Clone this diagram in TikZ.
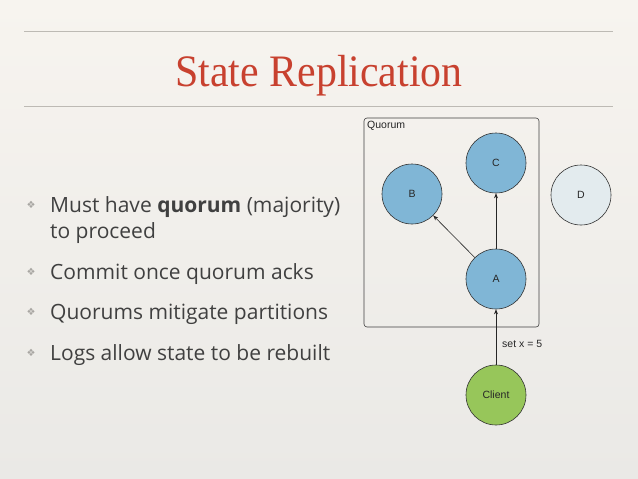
\documentclass[tikz,border=0pt]{standalone}
\usepackage{fontspec}
\setmainfont{Liberation Serif}
\newfontfamily\bodyfont{Open Sans}
\newfontfamily\diafont{Liberation Sans}
\newfontfamily\symfont{DejaVu Sans}
\usetikzlibrary{arrows.meta}
\definecolor{bgtop}{HTML}{F7F4EF}
\definecolor{bgbot}{HTML}{EAE9E6}
\definecolor{titlered}{HTML}{C8412F}
\definecolor{rulegray}{HTML}{BDBAB4}
\definecolor{bodygray}{HTML}{404040}
\definecolor{nodeblue}{HTML}{80B6D6}
\definecolor{nodepale}{HTML}{E3EBEE}
\definecolor{nodegreen}{HTML}{97C65A}
\definecolor{bulletgray}{HTML}{A8A6A2}
\tikzset{
  replica/.style={circle, draw=black!80, line width=0.6pt, minimum size=60pt, inner sep=0pt, font=\diafont\fontsize{10.5}{12}\selectfont, text=black!85},
  conn/.style={draw=black!85, line width=0.6pt, -{Stealth[length=5pt,width=4pt]}},
  bullettext/.style={anchor=base west, text=bodygray, font=\bodyfont\fontsize{21}{24}\selectfont, inner sep=0pt},
  bulletmark/.style={text=bulletgray, font=\symfont\fontsize{10}{10}\selectfont, inner sep=0pt},
  titlerule/.style={draw=rulegray, line width=0.8pt},
  dialabel/.style={inner sep=0pt, font=\diafont\fontsize{10.5}{12}\selectfont, text=black!85}
}
\begin{document}
\begin{tikzpicture}[x=1pt,y=-1pt]
\shade[top color=bgtop, bottom color=bgbot] (0,0) rectangle (638,479);
\useasboundingbox (0,0) rectangle (638,479);
% rules
\coordinate (r1a) at (24,31); \coordinate (r1b) at (613,31);
\coordinate (r2a) at (24,106); \coordinate (r2b) at (613,106);
\draw[titlerule] (r1a) -- (r1b);
\draw[titlerule] (r2a) -- (r2b);
% title
\node[text=titlered, inner sep=0pt, anchor=base, xscale=0.93] (title) at (319,86) {\fontsize{45}{50}\selectfont State Replication};
% bullets
\node[bulletmark] (m1) at (31,205) {❖};
\node[bullettext] (t1) at (50,212) {Must have \textbf{quorum} (majority)};
\node[bullettext] (t1b) at (50,238) {to proceed};
\node[bulletmark] (m2) at (31,272) {❖};
\node[bullettext] (t2) at (50,279) {Commit once quorum acks};
\node[bulletmark] (m3) at (31,312) {❖};
\node[bullettext] (t3) at (50,319) {Quorums mitigate partitions};
\node[bulletmark] (m4) at (31,353) {❖};
\node[bullettext] (t4) at (50,360) {Logs allow state to be rebuilt};
% quorum box
\draw[draw=black!75, line width=0.6pt, rounded corners=3pt] (364,118) rectangle (539,327);
\node[dialabel, anchor=north west] (qlabel) at (367,121) {Quorum};
% replicas
\node[replica, fill=nodeblue] (C) at (496,163) {C};
\node[replica, fill=nodeblue] (B) at (412,194) {B};
\node[replica, fill=nodepale] (D) at (581,195) {D};
\node[replica, fill=nodeblue] (A) at (496,279) {A};
\node[replica, fill=nodegreen] (Cl) at (496,395) {Client};
% connectors
\draw[conn] (A) -- (C);
\draw[conn] (A) -- (B);
\draw[conn] (Cl) -- (A);
\node[dialabel, anchor=west] (lbl) at (502,344) {set x = 5};
\end{tikzpicture}
\end{document}
